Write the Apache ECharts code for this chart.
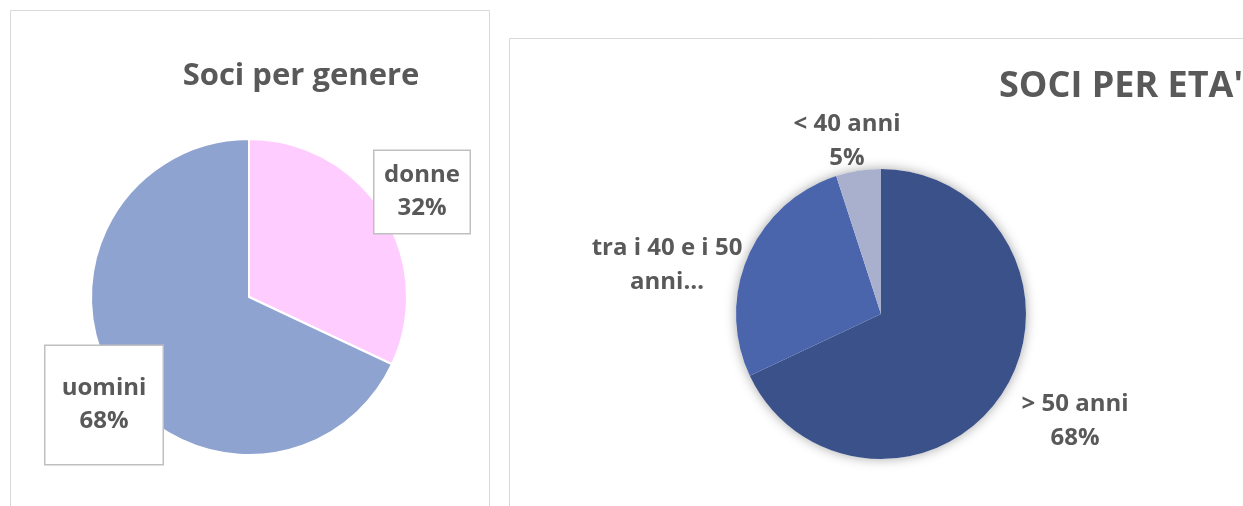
<!DOCTYPE html>
<html>
<head>
<meta charset="utf-8">
<script src="https://cdn.jsdelivr.net/npm/echarts@6/dist/echarts.min.js"></script>
<style>
  html, body { margin: 0; padding: 0; background: #fff; }
  #chart { width: 1243px; height: 506px; }
</style>
</head>
<body>
<div id="chart"></div>
<script>
  // gender chart
  const genderNames = ['donne', 'uomini']
  const genderValues = [32, 68]
  const genderColors = ['#FFCCFF', '#8FA3D1']

  // age chart
  const ageNames = ['> 50 anni', 'tra i 40 e i 50 anni', '< 40 anni']
  const ageValues = [68, 27, 5]
  const ageLabels = ['> 50 anni\n68%', 'tra i 40 e i 50\nanni…', '< 40 anni\n5%']
  const ageColors = ['#3B5189', '#4A65AC', '#A8B0CE']

  const textColor = '#595959'
  const fontFamily = '"Open Sans", Lato, sans-serif'

  const chart = echarts.init(document.getElementById('chart'))

  // label box positions and sizes
  const genderLabelPos = [
    {x: 422, y: 192},
    {x: 104, y: 405}
  ]
  const genderLabelBox = [
    {width: 79, padding: [8, 8]},
    {width: 101, padding: [26, 8]}
  ]
  const ageLabelPos = [
    {x: 1075, y: 421},
    {x: 667, y: 265},
    {x: 847, y: 141}
  ]

  const option = {
    animation: false,
    graphic: [
      {
        type: 'rect', z: -10,
        shape: {x: 10.5, y: 10.5, width: 479, height: 520},
        style: {fill: '#fff', stroke: '#d9d9d9', lineWidth: 1}
      },
      {
        type: 'rect', z: -10,
        shape: {x: 509.5, y: 38.5, width: 760, height: 520},
        style: {fill: '#fff', stroke: '#d9d9d9', lineWidth: 1}
      },
      {
        type: 'text', x: 301, y: 76,
        style: {
          text: 'Soci per genere', fill: textColor, font: 'bold 31px ' + fontFamily,
          align: 'center', verticalAlign: 'middle'
        }
      },
      {
        type: 'text', x: 999, y: 87,
        style: {
          text: "SOCI PER ETA'", fill: textColor, font: 'bold 36px ' + fontFamily,
          align: 'left', verticalAlign: 'middle'
        }
      }
    ],
    series: [
      {
        type: 'pie',
        center: [249, 297],
        radius: 158,
        startAngle: 90,
        clockwise: true,
        silent: true,
        data: genderNames.map((n, i) => ({
          name: n,
          value: genderValues[i],
          itemStyle: {color: genderColors[i]},
          label: genderLabelBox[i]
        })),
        itemStyle: {borderColor: '#fff', borderWidth: 2},
        label: {
          show: true,
          position: 'outside',
          formatter: '{b}\n{d}%',
          color: textColor,
          fontFamily: fontFamily,
          fontWeight: 'bold',
          fontSize: 24,
          lineHeight: 33,
          align: 'center',
          overflow: 'none',
          backgroundColor: '#fff',
          borderColor: '#bfbfbf',
          borderWidth: 1.5
        },
        labelLine: {show: false},
        labelLayout: function (params) {
          const p = genderLabelPos[params.dataIndex]
          return {x: p.x, y: p.y, align: 'center', verticalAlign: 'middle'}
        }
      },
      {
        // shadow behind the age pie
        type: 'pie',
        center: [881, 314],
        radius: 145,
        silent: true,
        z: 1,
        label: {show: false},
        labelLine: {show: false},
        data: [{value: 1, itemStyle: {color: '#fff', shadowBlur: 12, shadowColor: 'rgba(0,0,0,0.35)'}}]
      },
      {
        type: 'pie',
        center: [881, 314],
        radius: 145,
        startAngle: 90,
        clockwise: true,
        silent: true,
        z: 2,
        data: ageNames.map((n, i) => ({
          name: n,
          value: ageValues[i],
          itemStyle: {color: ageColors[i]}
        })),
        label: {
          show: true,
          position: 'outside',
          formatter: function (params) {
            return ageLabels[params.dataIndex]
          },
          color: textColor,
          fontFamily: fontFamily,
          fontWeight: 'bold',
          fontSize: 24,
          lineHeight: 34,
          align: 'center'
        },
        labelLine: {show: false},
        labelLayout: function (params) {
          const p = ageLabelPos[params.dataIndex]
          return {x: p.x, y: p.y, align: 'center', verticalAlign: 'middle'}
        }
      }
    ]
  }
  chart.setOption(option)
</script>
</body>
</html>
